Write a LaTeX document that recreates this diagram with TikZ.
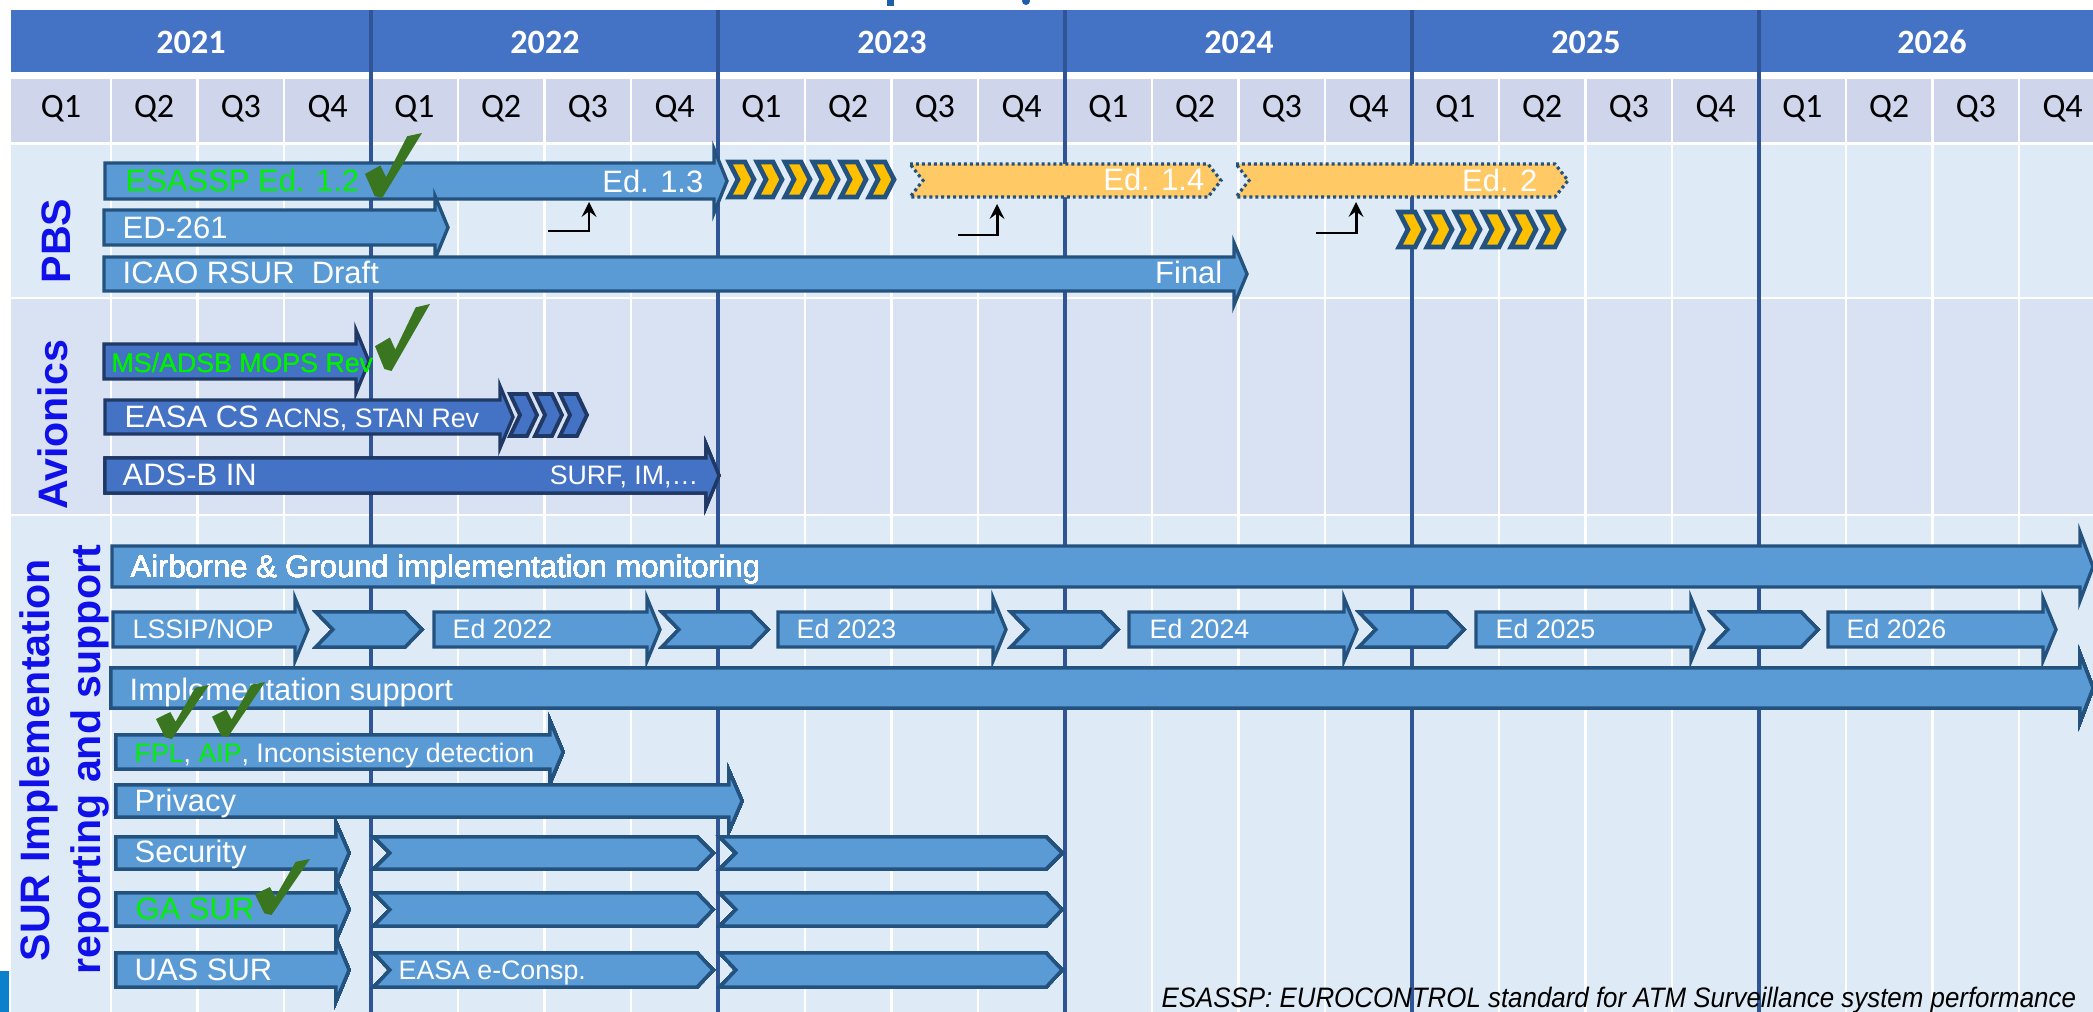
\documentclass[tikz,border=0pt]{standalone}
\usepackage{fontspec}
\setmainfont{Liberation Sans}
\newfontfamily\hdrfont{Carlito}
\usepackage{tikz}
\usetikzlibrary{positioning, arrows, calc}

\definecolor{yearblue}{HTML}{4472C4}
\definecolor{qband}{HTML}{CFD5EA}
\definecolor{bodyblue}{HTML}{DEEBF7}
\definecolor{avbody}{HTML}{D9E2F3}
\definecolor{yearline}{HTML}{2F5597}
\definecolor{barblue}{HTML}{5B9BD5}
\definecolor{bardark}{HTML}{24527F}
\definecolor{avblue}{HTML}{4472C4}
\definecolor{avdark}{HTML}{1F3864}
\definecolor{chevyellow}{HTML}{FFC000}
\definecolor{edyellow}{HTML}{FFC966}
\definecolor{donegreen}{HTML}{00F000}
\definecolor{tickgreen}{HTML}{3A7620}
\definecolor{labelblue}{HTML}{1010E8}
\definecolor{cornerblue}{HTML}{0B80CC}
\definecolor{titleblue}{HTML}{1F5FAA}

% block arrow with a tall head: [style]{left}{head x}{top}{bottom}
\newcommand{\arrowbar}[5][bar]{\draw[#1] (#2,#4) -- (#3,#4) -- (#3,#4-14)
    -- (#3+13,{(#4+#5)/2}) -- (#3,#5+14) -- (#3,#5) -- (#2,#5) -- cycle;}
% notched segment: [style]{left}{tip x}{top}{bottom}{depth}
\newcommand{\segbar}[6][bar]{\draw[#1] (#2,#4) -- (#3-#6,#4) -- (#3,{(#4+#5)/2})
    -- (#3-#6,#5) -- (#2,#5) -- (#2+#6,{(#4+#5)/2}) -- cycle;}
% green check: {x}{y}{width}{height}
\newcommand{\donetick}[4]{\fill[tickgreen,shift={(#1,#2)},xscale=#3,yscale=#4]
    (0,0.63) -- (0.27,0.5) -- (0.37,0.68) -- (0.74,0.05) -- (1,0)
    -- (0.3,1) -- (0.17,0.97) -- cycle;}

\begin{document}
\begin{tikzpicture}[x=0.01cm,y=-0.01cm,>=stealth,
    bar/.style={fill=barblue,draw=bardark,line width=0.95pt},
    avbar/.style={fill=avblue,draw=avdark,line width=0.95pt},
    chev/.style={fill=chevyellow,draw=bardark,line width=1.35pt},
    avchev/.style={fill=avblue,draw=avdark,line width=1.1pt},
    edbar/.style={fill=edyellow,draw=bardark,line width=0.9pt,
                  dash pattern=on 0.85pt off 0.85pt},
    big/.style={anchor=base west,inner sep=0pt,text=white,
                font=\fontsize{8.8}{10}\selectfont},
    small/.style={big,font=\fontsize{7.6}{9}\selectfont},
    lbl/.style={rotate=90,anchor=north,inner sep=0pt,text=labelblue,align=center,
                font=\fontsize{11.7}{14.6}\selectfont\bfseries},
    yeartxt/.style={anchor=base,inner sep=0pt,text=white,
                font=\fontsize{9.7}{11}\selectfont\hdrfont\bfseries},
    qtxt/.style={anchor=base,inner sep=0pt,font=\fontsize{9.7}{11}\selectfont\hdrfont},
    conn/.style={->,black,line width=0.85pt}]
  \useasboundingbox (0,0) rectangle (2093,1012);
  \clip (0,0) rectangle (2093,1012);
  \fill[white] (0,0) rectangle (2093,1012);
  \fill[titleblue] (887,0) rectangle (894,6);
  \fill[titleblue] (1026,1) circle (4);

  % header and background
  \fill[yearblue] (11,10) rectangle (2093,72);
  \fill[qband] (11,79) rectangle (2093,142);
  \fill[bodyblue] (11,145) rectangle (2093,297);
  \fill[avbody] (11,299) rectangle (2093,514);
  \fill[bodyblue] (11,516) rectangle (2093,1012);
  \fill[cornerblue] (0,971) rectangle (9,1012);
  \foreach \t in {1,...,23}
    \draw[white,line width=0.7pt] ({24+86.75*\t},79) -- ({24+86.75*\t},1012);
  \foreach \k in {0,...,4}
    \draw[yearline,line width=1.15pt] ({371+347*\k},10) -- ({371+347*\k},1012);
  \foreach \yr/\cx in {2021/191,2022/545,2023/892,2024/1239,2025/1586,2026/1932}
    \node[yeartxt] (y\yr) at (\cx,53) {\yr};
  \foreach \y in {0,...,5}
    \foreach \q in {1,...,4} {
      \pgfmathsetmacro\cx{(4*\y+\q==1) ? 61 : 24+86.75*(4*\y+\q-0.5)}
      \node[qtxt] (q\y\q) at (\cx,117) {Q\q};
    }

  % PBS
  \arrowbar{105}{714}{163}{199}
  \arrowbar{104}{435}{210}{245}
  \arrowbar{104}{1234}{257}{291}
  \foreach \k in {0,...,5} {
    \segbar[chev]{729+28*\k}{754+28*\k}{162}{197}{9}
    \segbar[chev]{1399+28*\k}{1424+28*\k}{212}{247}{9}
  }
  \segbar[edbar]{910}{1221}{164}{197}{13}
  \segbar[edbar]{1236}{1568}{164}{197}{13}
  \node[big,text=donegreen] (esassp) at (125,191) {ESASSP Ed. 1.2};
  \node[big,anchor=base east] (ed13) at (704,192) {Ed. 1.3};
  \node[big,anchor=base east] (ed14) at (1205,190) {Ed. 1.4};
  \node[big,anchor=base east] (ed2) at (1538,191) {Ed. 2};
  \node[big] (ed261) at (122,238) {ED-261};
  \node[big] (icao) at (122,283) {ICAO RSUR\ \ Draft};
  \node[big,anchor=base east] (final) at (1223,283) {Final};
  \coordinate (from13) at (548,231);  \coordinate (to13) at (589,202);
  \coordinate (from14) at (958,235);  \coordinate (to14) at (997,204);
  \coordinate (from2) at (1316,233);  \coordinate (to2) at (1356,202);
  \draw[conn] (from13) -| (to13);
  \draw[conn] (from14) -| (to14);
  \draw[conn] (from2) -| (to2);
  \node[lbl] (pbs) at (41,241) {PBS};

  % Avionics
  \arrowbar[avbar]{104}{356}{344}{379}
  \arrowbar[avbar]{105}{500}{400}{434}
  \foreach \k in {0,1,2}
    \segbar[avchev]{510+25*\k}{537+25*\k}{394}{436}{10}
  \arrowbar[avbar]{105}{706}{458}{493}
  \node[small,text=donegreen] (mops) at (111,372) {MS/ADSB MOPS Rev};
  \node[big] (easacs) at (124,427) {EASA CS};
  \node[small] (acns) at (265,427) {ACNS, STAN Rev};
  \node[big] (adsbin) at (122,485) {ADS-B IN};
  \node[small,anchor=base east] (surf) at (699,484) {SURF, IM,…};
  \node[lbl] (avionics) at (37,425) {Avionics};

  % SUR implementation
  \arrowbar{112}{2080}{546}{587}
  \foreach \xl/\xh in {113/295,434/647,778/993,1129/1344,1476/1691,1828/2043}
    \arrowbar{\xl}{\xh}{612}{647}
  \foreach \xl/\xr in {316/422,662/768,1011/1118,1359/1464,1711/1818}
    \segbar{\xl}{\xr}{612}{647}{17}
  \arrowbar{111}{2080}{668}{708}
  \arrowbar{116}{550}{735}{769}
  \arrowbar{116}{729}{785}{817}
  \foreach \yt/\yb in {837/869,893/926,953/987} {
    \arrowbar{116}{336}{\yt}{\yb}
    \segbar{374}{713}{\yt}{\yb}{16}
    \segbar{720}{1062}{\yt}{\yb}{16}
  }
  \node[big] (monitor) at (130,577) {Airborne \& Ground implementation monitoring};
  \node[small] (lssip) at (132,638) {LSSIP/NOP};
  \foreach \yr/\tx in {2022/452,2023/796,2024/1149,2025/1495,2026/1846}
    \node[small] (ed\yr) at (\tx,638) {Ed \yr};
  \node[big] (support) at (129,700) {Implementation support};
  \node[small] (fpl) at (134,762) {\textcolor{donegreen}{FPL}, \textcolor{donegreen}{AIP}, Inconsistency detection};
  \node[big] (privacy) at (134,811) {Privacy};
  \node[big] (security) at (134,862) {Security};
  \node[big,text=donegreen] (gasur) at (135,919) {GA SUR};
  \node[big] (uassur) at (134,980) {UAS SUR};
  \node[small] (consp) at (398,979) {EASA e-Consp.};
  \node[lbl] (surlbl) at (19,760) {SUR Implementation\\reporting and support};

  % done marks
  \donetick{365}{133}{57}{65}
  \donetick{375}{304}{55}{67}
  \donetick{156}{685}{53}{54}
  \donetick{212}{682}{53}{55}
  \donetick{255}{859}{55}{56}

  \node[anchor=base west,inner sep=0pt,xscale=0.92,
        font=\fontsize{8}{9}\selectfont\itshape]
    (note) at (1161,1007) {ESASSP: EUROCONTROL standard for ATM Surveillance system performance};
\end{tikzpicture}
\end{document}
